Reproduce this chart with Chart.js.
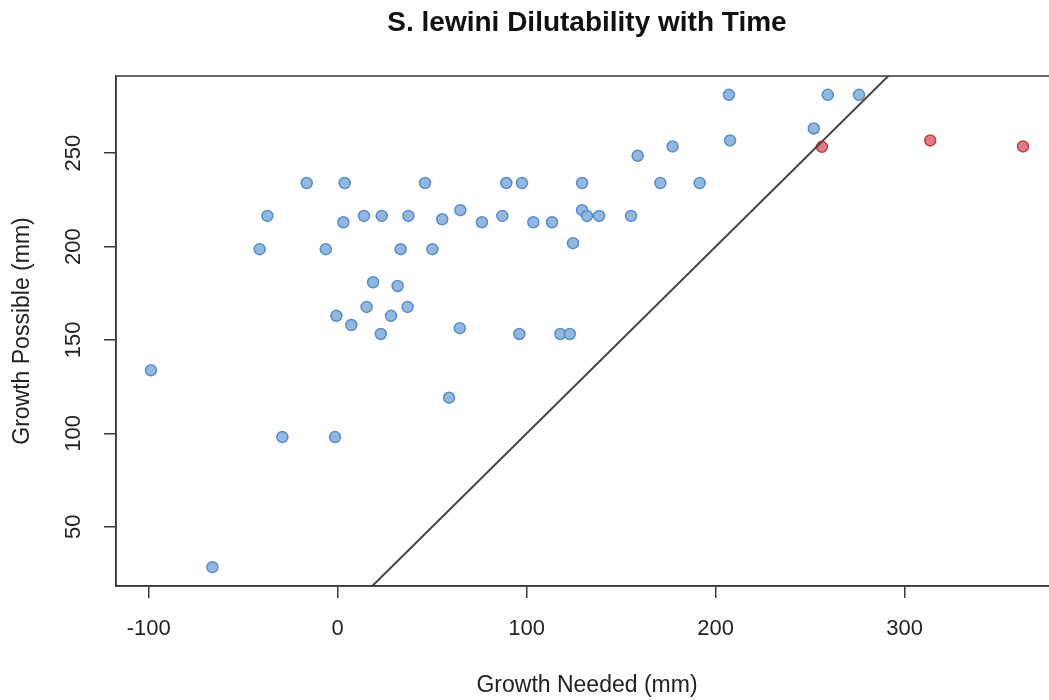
<!DOCTYPE html>
<html>
<head>
<meta charset="utf-8">
<script src="https://cdn.jsdelivr.net/npm/chart.js@4"></script>
<style>
html,body{margin:0;padding:0;background:#fff;overflow:hidden;}
#wrap{width:1070px;height:700px;}
</style>
</head>
<body>
<div id="wrap"><canvas id="c" width="1070" height="700"></canvas></div>
<script>
// Data
const blueX = [-16.4, 3.7, 46.2, -37.2, 3.0, 13.9, 23.3, 37.4, 55.3, -41.3, -6.3, 33.3, 50.1, 18.7, 31.7, 15.3, 37.0, -0.7, 28.2, 7.2, 22.8,
  -98.8, -29.3, -1.4, -66.3, 58.9,
  207.0, 207.6, 158.7, 177.2, 89.2, 97.5, 129.3, 170.7, 191.5, 64.9, 76.3, 87.1, 103.5, 113.4, 129.3, 131.9, 138.3, 155.2, 124.5, 64.6, 96.1, 117.8, 122.8,
  259.3, 275.8, 251.9];
const blueY = [234, 234, 234, 216.4, 213, 216.4, 216.4, 216.4, 214.6, 198.6, 198.6, 198.6, 198.6, 180.9, 178.9, 167.7, 167.7, 162.9, 162.9, 158, 153.2,
  133.8, 98, 98, 28.4, 119.1,
  281.2, 256.8, 248.6, 253.6, 234, 234, 234, 234, 234, 219.5, 213, 216.4, 213, 213, 219.5, 216.4, 216.4, 216.4, 201.8, 156.3, 153.2, 153.2, 153.2,
  281.2, 281.2, 263.2];
const redX = [256.2, 313.5, 362.6];
const redY = [253.4, 256.8, 253.6];
const refLineX = [-200, 500];   // y = x reference line
const refLineY = [-200, 500];
const xTicks = [-100, 0, 100, 200, 300];
const yTicks = [50, 100, 150, 200, 250];
const xRange = [-117.3, 381.1];
const yRange = [18.3, 291.3];
const titleText = 'S. lewini Dilutability with Time';
const xTitle = 'Growth Needed (mm)';
const yTitle = 'Growth Possible (mm)';

const toPts = (xs, ys) => xs.map((x, i) => ({x: x, y: ys[i]}));
const FONT = '"Liberation Sans", Arial, Helvetica, sans-serif';
const AXC = '#3a3a3a';

const framePlugin = {
  id: 'frame',
  afterDraw(chart) {
    const ctx = chart.ctx, a = chart.chartArea;
    ctx.save();
    ctx.strokeStyle = AXC;
    ctx.lineWidth = 1.5;
    ctx.strokeRect(a.left, a.top, a.right - a.left, a.bottom - a.top);
    // title
    ctx.fillStyle = '#111';
    ctx.font = 'bold 28px ' + FONT;
    ctx.textAlign = 'center';
    ctx.textBaseline = 'middle';
    ctx.fillText(titleText, (a.left + a.right) / 2, 23);
    // y tick labels rotated
    const ys = chart.scales.y;
    ctx.font = '22px ' + FONT;
    ctx.fillStyle = '#222';
    yTicks.forEach(v => {
      const py = ys.getPixelForValue(v);
      ctx.save();
      ctx.translate(74, py);
      ctx.rotate(-Math.PI / 2);
      ctx.fillText(String(v), 0, 0);
      ctx.restore();
    });
    // y title
    ctx.font = '23px ' + FONT;
    ctx.save();
    ctx.translate(23, (a.top + a.bottom) / 2);
    ctx.rotate(-Math.PI / 2);
    ctx.fillText(yTitle, 0, 0);
    ctx.restore();
    ctx.restore();
  }
};

new Chart(document.getElementById('c'), {
  type: 'scatter',
  data: {
    datasets: [
      {
        type: 'line',
        data: toPts(refLineX, refLineY),
        borderColor: '#444',
        borderWidth: 2,
        pointRadius: 0,
        fill: false
      },
      {
        data: toPts(redX, redY),
        backgroundColor: 'rgba(218,100,110,0.85)',
        borderColor: 'rgba(190,50,62,0.9)',
        borderWidth: 1.5,
        pointRadius: 5.5
      },
      {
        data: toPts(blueX, blueY),
        backgroundColor: 'rgba(140,180,222,0.95)',
        borderColor: 'rgba(84,138,196,0.95)',
        borderWidth: 1.5,
        pointRadius: 5.5
      }
    ]
  },
  options: {
    responsive: false,
    animation: false,
    layout: {padding: {top: 76, right: 12, left: 0, bottom: 0}},
    plugins: {legend: {display: false}, tooltip: {enabled: false}, title: {display: false}},
    scales: {
      x: {
        type: 'linear',
        min: xRange[0], max: xRange[1],
        afterBuildTicks: s => { s.ticks = xTicks.map(v => ({value: v})); },
        afterFit: s => { s.height = 114; },
        grid: {drawOnChartArea: false, drawTicks: true, tickLength: 12, color: AXC, lineWidth: 1.5},
        border: {display: true, color: AXC, width: 1.5},
        ticks: {color: '#222', font: {family: FONT, size: 22}, padding: 18, maxRotation: 0, autoSkip: false},
        title: {display: true, text: xTitle, color: '#222', font: {family: FONT, size: 23}, padding: {top: 0, bottom: 1}}
      },
      y: {
        type: 'linear',
        min: yRange[0], max: yRange[1],
        afterBuildTicks: s => { s.ticks = yTicks.map(v => ({value: v})); },
        afterFit: s => { s.width = 116; },
        grid: {drawOnChartArea: false, drawTicks: true, tickLength: 12, color: AXC, lineWidth: 1.5},
        border: {display: true, color: AXC, width: 1.5},
        ticks: {color: 'rgba(0,0,0,0)', font: {family: FONT, size: 16}},
        title: {display: false}
      }
    }
  },
  plugins: [framePlugin]
});
</script>
</body>
</html>
